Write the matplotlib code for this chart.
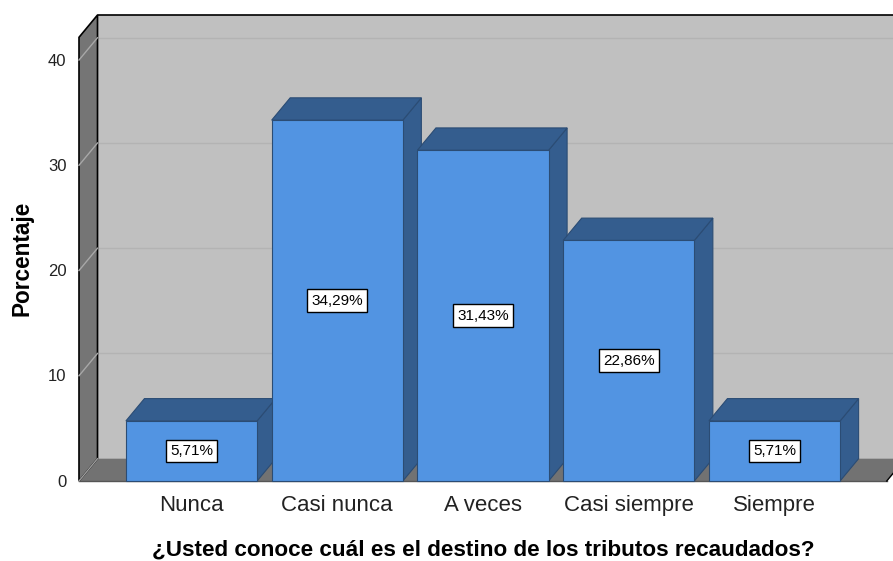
import matplotlib.pyplot as plt
from matplotlib.patches import Polygon

categories = ['Nunca', 'Casi nunca', 'A veces', 'Casi siempre', 'Siempre']
percentages = [5.71, 34.29, 31.43, 22.86, 5.71]
yticks = [0, 10, 20, 30, 40]

# geometry of the fake 3D box (data units)
dx, dy = 0.127, 2.12
bw = 0.9
x_left, x_right = -0.772, 4.813
y_top = 44.28
wall_top = y_top - dy

front = '#5294e2'
dark = '#345d8e'
edge = '#2b4c74'

plt.rcParams['font.family'] = ['Liberation Sans', 'DejaVu Sans']
fig = plt.figure(figsize=(8.93, 5.61), dpi=100)
ax = fig.add_axes([79 / 893, 80 / 561, (893 - 79) / 893, (481 - 15) / 561])
ax.set_xlim(x_left, x_right)
ax.set_ylim(0, y_top)
ax.axis('off')

# back wall
ax.add_patch(Polygon([(x_left + dx, dy), (x_right + 1, dy), (x_right + 1, y_top),
                      (x_left + dx, y_top)], closed=True, fc='#c0c0c0', ec='none', zorder=1))
ax.plot([x_left + dx, x_right + 1], [y_top, y_top], color='black', lw=1.2, zorder=2, clip_on=False)

# floor
floor_end = 4.77
ax.add_patch(Polygon([(x_left, 0), (floor_end, 0), (floor_end + dx, dy), (x_left + dx, dy)],
                     closed=True, fc='#727272', ec='none', zorder=2, clip_on=False))
ax.plot([x_left, floor_end], [0, 0], color='#555555', lw=1, zorder=3, clip_on=False)
ax.plot([floor_end, floor_end + dx], [0, dy], color='black', lw=1, zorder=3, clip_on=False)

# left wall
ax.add_patch(Polygon([(x_left, 0), (x_left + dx, dy), (x_left + dx, y_top), (x_left, wall_top)],
                     closed=True, fc='#757575', ec='black', lw=1.2, zorder=3, clip_on=False))

# gridlines
for t in yticks[1:]:
    ax.plot([x_left + dx, x_right + 1], [t + dy, t + dy], color='#b3b3b3', lw=1, zorder=1.5)
    ax.plot([x_left, x_left + dx], [t, t + dy], color='#a8a8a8', lw=1, zorder=3.5, clip_on=False)
ax.plot([x_left, x_left + dx], [0, dy], color='#a0a0a0', lw=1, zorder=3.5, clip_on=False)

for t in yticks:
    ax.text(x_left - 0.085, t - 0.1, str(t), ha='right', va='center', fontsize=12, color='#222222')

# bars
for i, (cat, v) in enumerate(zip(categories, percentages)):
    x0, x1 = i - bw / 2, i + bw / 2
    z = 5 + i
    ax.add_patch(Polygon([(x1, 0), (x1 + dx, dy), (x1 + dx, v + dy), (x1, v)], closed=True,
                         fc=dark, ec=edge, lw=0.8, zorder=z, clip_on=False))
    ax.add_patch(Polygon([(x0, v), (x0 + dx, v + dy), (x1 + dx, v + dy), (x1, v)], closed=True,
                         fc=dark, ec=edge, lw=0.8, zorder=z, clip_on=False))
    ax.add_patch(Polygon([(x0, 0), (x1, 0), (x1, v), (x0, v)], closed=True,
                         fc=front, ec=edge, lw=0.8, zorder=z, clip_on=False))
    label = f'{v:.2f}%'.replace('.', ',')
    ax.text(i, v / 2, label, ha='center', va='center', fontsize=11, zorder=20,
            bbox=dict(boxstyle='square,pad=0.28', fc='white', ec='black', lw=1))
    ax.text(i, -2.3, cat, ha='center', va='center', fontsize=16, color='#222222', clip_on=False)

fig.text(483 / 893, 1 - 550 / 561, '¿Usted conoce cuál es el destino de los tributos recaudados?',
         ha='center', va='center', fontsize=16.2, fontweight='bold')
fig.text(22 / 893, 1 - 258 / 561, 'Porcentaje', ha='center', va='center', rotation=90,
         fontsize=16.3, fontweight='bold')

fig.savefig('out.png', dpi=100, facecolor='white')
